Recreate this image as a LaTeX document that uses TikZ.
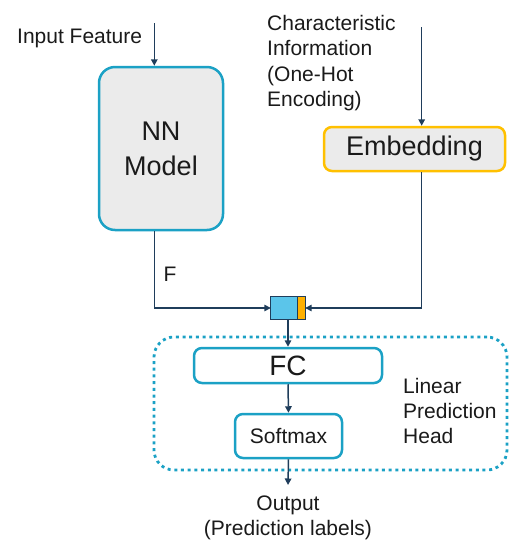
\documentclass[tikz,border=0pt]{standalone}
\usepackage{fontspec}
\setmainfont{Liberation Sans}
\usetikzlibrary{arrows.meta}
\definecolor{teal1}{HTML}{1BA1C5}
\definecolor{grayfill}{HTML}{EBEBEB}
\definecolor{gold1}{HTML}{FFC000}
\definecolor{catblue}{HTML}{5BC5EA}
\definecolor{catorange}{HTML}{FFB000}
\definecolor{arrowc}{HTML}{1F3D5B}
\definecolor{txt}{HTML}{1A1A1A}
\tikzset{
  conn/.style={draw=arrowc, line width=1.5pt, -{Triangle[length=6.5pt,width=6.5pt]}},
  plain/.style={draw=arrowc, line width=1.5pt},
  lbl/.style={inner sep=0pt, text=txt, font=\fontsize{21}{25.3}\selectfont},
  tealbox/.style={draw=teal1, line width=2.5pt, inner sep=0pt, text=txt},
}
\begin{document}
\begin{tikzpicture}[x=1pt,y=1pt]
\useasboundingbox (0,0) rectangle (511,-542);
% dotted head region
\node[draw=teal1, line width=2.8pt, dash pattern=on 3pt off 3.7pt, rounded corners=20pt,
      minimum width=353pt, minimum height=133pt, inner sep=0pt] (head) at (330.5,-403.5) {};
% NN model
\node[tealbox, fill=grayfill, rounded corners=16pt, minimum width=124pt, minimum height=163pt,
      align=center, font=\fontsize{27}{35}\selectfont] (nn) at (161,-148.5) {NN\\Model};
% Embedding
\node[draw=gold1, line width=2.5pt, fill=grayfill, rounded corners=8pt, inner sep=0pt,
      minimum width=181pt, minimum height=44pt, text=txt, font=\fontsize{27}{32}\selectfont] (emb) at (414.5,-149) {Embedding};
% FC
\node[tealbox, fill=white, rounded corners=8pt, minimum width=188pt, minimum height=35pt,
      font=\fontsize{28}{32}\selectfont] (fc) at (288,-365.5) {FC};
% Softmax
\node[tealbox, fill=white, rounded corners=8pt, minimum width=107pt, minimum height=44pt,
      font=\fontsize{21}{25}\selectfont] (sm) at (288.5,-436) {Softmax};
% concat
\node[fill=catblue, inner sep=0pt, minimum width=34pt, minimum height=22.6pt] (cat) at (288,-308) {};
\fill[catorange] ([xshift=-8pt]cat.north east) rectangle (cat.south east);
\draw[arrowc, line width=1pt] ([xshift=-8pt]cat.north east) -- ([xshift=-8pt]cat.south east);
\draw[arrowc, line width=1pt] (cat.north west) rectangle (cat.south east);
% labels
\node[lbl, anchor=west] (inlbl) at (17,-38) {Input Feature};
\node[lbl, anchor=west, align=left] (charlbl) at (267,-63) {Characteristic\\Information\\(One-Hot\\Encoding)};
\node[lbl, anchor=center] (flbl) at (170,-274) {F};
\node[lbl, anchor=west, align=left] (headlbl) at (403,-411) {Linear\\Prediction\\Head};
\node[lbl, anchor=center, align=center] (outlbl) at (288,-518) {Output\\(Prediction labels)};
% coordinates
\coordinate (inTop) at (154.3,-23);
\coordinate (charTop) at (421.7,-27);
\coordinate (outTip) at (288,-485);
% connectors
\draw[conn] (inTop) -- (nn.north -| inTop);
\draw[conn] (nn.south -| inTop) |- (cat.west);
\draw[conn] (charTop) -- (emb.north -| charTop);
\draw[conn] (emb.south -| charTop) |- (cat.east);
\draw[conn] (cat.south) -- (fc.north);
\draw[conn] (fc.south) -- (sm.north);
\draw[conn] (sm.south) -- (outTip);
\end{tikzpicture}
\end{document}
